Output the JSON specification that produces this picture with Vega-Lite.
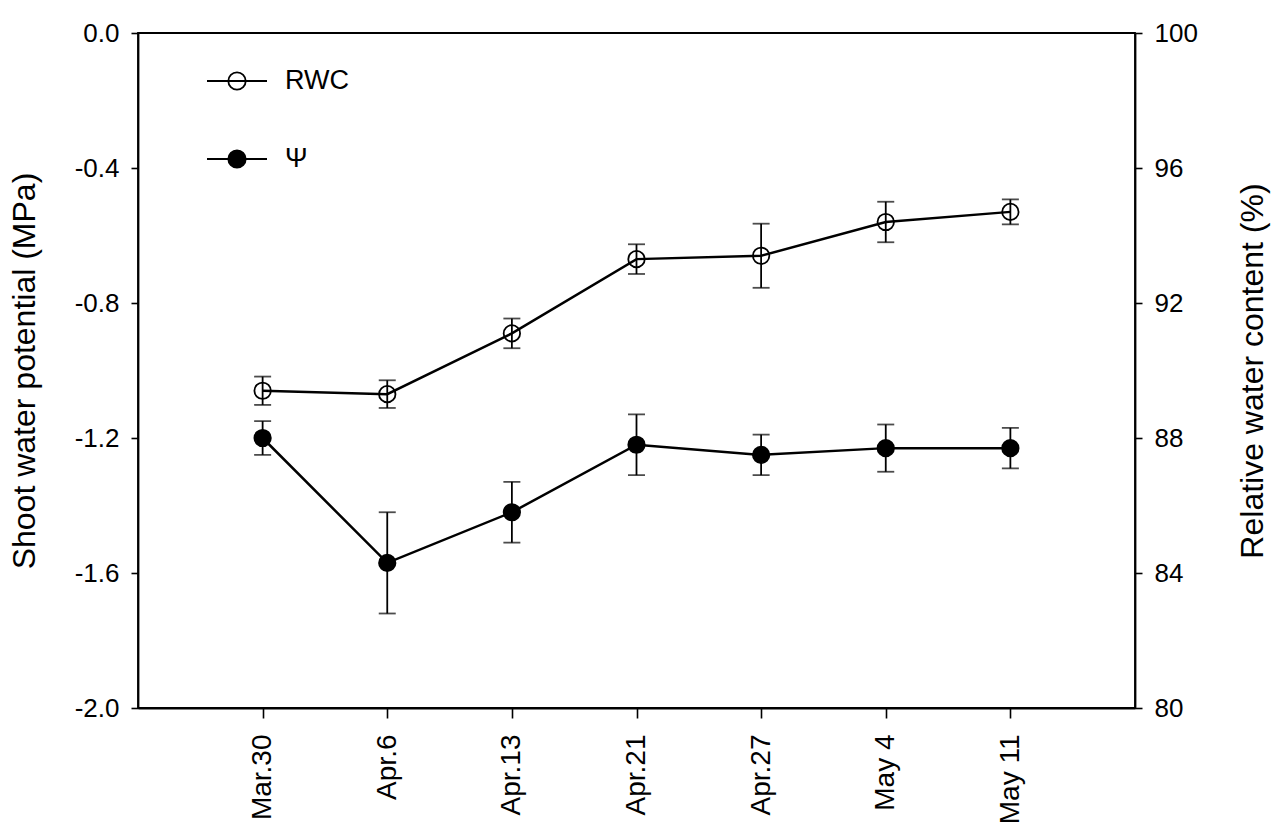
{
  "$schema": "https://vega.github.io/schema/vega-lite/v6.json",
  "width": 997,
  "height": 675,
  "autosize": {"type": "none"},
  "padding": {"left": 138, "top": 33, "right": 149, "bottom": 128},
  "background": "white",
  "config": {
    "font": "Liberation Sans",
    "view": {"stroke": "black", "strokeWidth": 1.8},
    "axis": {
      "grid": false,
      "domainColor": "black",
      "domainWidth": 1.8,
      "tickColor": "black",
      "tickWidth": 1.6,
      "tickSize": 7,
      "labelColor": "black",
      "labelFont": "Liberation Sans",
      "labelFontSize": 26,
      "titleColor": "black",
      "titleFont": "Liberation Sans",
      "titleFontSize": 32,
      "titleFontWeight": "normal"
    }
  },
  "data": {
    "values": [
      {"date": "Mar.30", "psi": -1.20, "psi_se": 0.05, "rwc": 89.4, "rwc_se": 0.42},
      {"date": "Apr.6", "psi": -1.57, "psi_se": 0.15, "rwc": 89.3, "rwc_se": 0.41},
      {"date": "Apr.13", "psi": -1.42, "psi_se": 0.09, "rwc": 91.1, "rwc_se": 0.44},
      {"date": "Apr.21", "psi": -1.22, "psi_se": 0.09, "rwc": 93.3, "rwc_se": 0.44},
      {"date": "Apr.27", "psi": -1.25, "psi_se": 0.06, "rwc": 93.4, "rwc_se": 0.95},
      {"date": "May 4", "psi": -1.23, "psi_se": 0.07, "rwc": 94.4, "rwc_se": 0.6},
      {"date": "May 11", "psi": -1.23, "psi_se": 0.06, "rwc": 94.7, "rwc_se": 0.37}
    ]
  },
  "encoding": {
    "x": {
      "field": "date",
      "type": "ordinal",
      "sort": null,
      "scale": {"type": "point", "padding": 1},
      "axis": {"title": null, "labelAngle": -90, "tickSize": 10, "labelPadding": 16, "labelFontSize": 28}
    }
  },
  "layer": [
    {
      "encoding": {
        "y": {
          "field": "rwc",
          "type": "quantitative",
          "scale": {"domain": [80, 100], "nice": false, "zero": false},
          "axis": {
            "orient": "right",
            "title": "Relative water content (%)",
            "values": [80, 84, 88, 92, 96, 100],
            "labelPadding": 12,
            "titleAngle": 270,
            "titleBaseline": "top",
            "titlePadding": 40
          }
        }
      },
      "layer": [
        {
          "mark": {"type": "point", "shape": "circle", "size": 270, "filled": true, "stroke": "black", "strokeWidth": 1.8, "opacity": 1},
          "encoding": {
            "fill": {
              "datum": "RWC",
              "type": "nominal",
              "scale": {"domain": ["RWC", "Ψ"], "range": ["white", "black"]},
              "legend": {
                "title": null,
                "orient": "none",
                "legendX": 68,
                "legendY": 17,
                "padding": 0,
                "symbolType": "M-1,0H1M0.29,0A0.29,0.29 0 1,1 -0.29,0A0.29,0.29 0 1,1 0.29,0Z",
                "symbolSize": 3600,
                "symbolStrokeColor": "black",
                "symbolStrokeWidth": 1.8,
                "symbolOpacity": 1,
                "labelFontSize": 27,
                "labelColor": "black",
                "labelFont": "Liberation Sans",
                "labelOffset": 17,
                "rowPadding": 34
              }
            }
          }
        },
        {
          "mark": {"type": "errorbar", "color": "black", "rule": {"strokeWidth": 1.8}, "ticks": {"size": 17, "thickness": 1.8, "color": "black"}},
          "encoding": {"yError": {"field": "rwc_se"}}
        },
        {
          "mark": {"type": "line", "color": "black", "strokeWidth": 2.5}
        }
      ]
    },
    {
      "encoding": {
        "y": {
          "field": "psi",
          "type": "quantitative",
          "scale": {"domain": [-2, 0], "nice": false, "zero": false},
          "axis": {
            "orient": "left",
            "title": "Shoot water potential (MPa)",
            "values": [-2, -1.6, -1.2, -0.8, -0.4, 0],
            "labelExpr": "datum.value == 0 ? '0.0' : '-' + format(-datum.value, '.1f')",
            "labelPadding": 12,
            "titlePadding": 33
          }
        }
      },
      "layer": [
        {
          "mark": {"type": "errorbar", "color": "black", "rule": {"strokeWidth": 1.8}, "ticks": {"size": 17, "thickness": 1.8, "color": "black"}},
          "encoding": {"yError": {"field": "psi_se"}}
        },
        {
          "mark": {"type": "line", "color": "black", "strokeWidth": 2.5}
        },
        {
          "mark": {"type": "point", "shape": "circle", "size": 270, "filled": true, "stroke": "black", "strokeWidth": 1.8, "opacity": 1},
          "encoding": {
            "fill": {"datum": "Ψ", "type": "nominal"}
          }
        }
      ]
    }
  ],
  "resolve": {"scale": {"y": "independent"}}
}
